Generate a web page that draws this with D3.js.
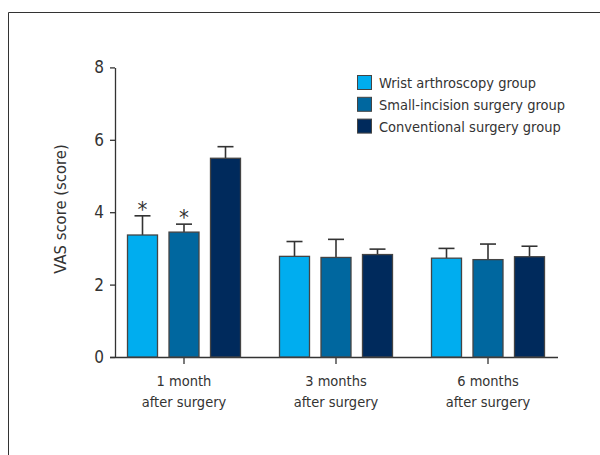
<!DOCTYPE html>
<html>
<head>
<meta charset="utf-8">
<script src="https://cdn.jsdelivr.net/npm/d3@7"></script>
<style>
  body { margin: 0; background: #fff; }
  text { font-family: "Liberation Sans Narrow", "DejaVu Sans Condensed", sans-serif; fill: #333; }
</style>
</head>
<body>
<script>
const groups = ["1 month|after surgery", "3 months|after surgery", "6 months|after surgery"];
const series = ["Wrist arthroscopy group", "Small-incision surgery group", "Conventional surgery group"];
const colors = ["#00adef", "#00679f", "#002a5c"];
// mean values per series, in group order
const wristMean = [3.37, 2.78, 2.73];
const smallMean = [3.45, 2.75, 2.69];
const convMean = [5.49, 2.83, 2.77];
// upper error bar ends
const wristErr = [3.90, 3.19, 3.00];
const smallErr = [3.67, 3.25, 3.12];
const convErr = [5.81, 2.98, 3.06];
const yTicks = [0, 2, 4, 6, 8];
// significance marks: [group, series]
const stars = [[0, 0], [0, 1]];

const means = [wristMean, smallMean, convMean];
const errs = [wristErr, smallErr, convErr];

const width = 600, height = 455;
const svg = d3.select("body").append("svg")
  .attr("width", width).attr("height", height);

// frame
svg.append("path")
  .attr("d", "M8.5,460V12.5H610")
  .attr("fill", "none").attr("stroke", "#333").attr("stroke-width", 1);

const y = d3.scaleLinear().domain([0, 8]).range([357, 67.4]);
const x0 = d3.scaleBand().domain(groups).range([108, 564]);
const x1 = d3.scaleBand().domain(series).range([-56.5, 56.5]).paddingInner(0.277);

// y axis
const yAxis = svg.append("g")
  .attr("transform", "translate(115,0)")
  .call(d3.axisLeft(y).tickValues(yTicks).tickSize(5).tickSizeOuter(0).tickPadding(6));
yAxis.select(".domain").attr("stroke", "#333").attr("stroke-width", 1.3);
yAxis.selectAll(".tick line").attr("stroke", "#333").attr("stroke-width", 1.3);
yAxis.selectAll(".tick text").style("font-size", "17px").attr("fill", "#333");

// x axis
const xAxis = svg.append("g")
  .attr("transform", `translate(0,${y(0)})`)
  .call(d3.axisBottom(x0).tickSize(7).tickSizeOuter(0).tickFormat(""));
xAxis.select(".domain").attr("d", "M110,0.5H558").attr("stroke", "#333").attr("stroke-width", 1.3);
xAxis.selectAll(".tick line").attr("stroke", "#333").attr("stroke-width", 1.3);

groups.forEach(g => {
  const lines = g.split("|");
  const t = svg.append("text")
    .attr("x", x0(g) + x0.bandwidth() / 2)
    .attr("y", 386)
    .attr("text-anchor", "middle")
    .style("font-size", "14.5px");
  lines.forEach((l, i) => t.append("tspan")
    .attr("x", x0(g) + x0.bandwidth() / 2)
    .attr("dy", i === 0 ? 0 : 21)
    .text(l));
});

// y label
svg.append("text")
  .attr("transform", `translate(66,209) rotate(-90)`)
  .attr("text-anchor", "middle")
  .style("font-size", "16.5px")
  .text("VAS score (score)");

// bars
const cells = [];
groups.forEach((g, gi) => series.forEach((s, si) => {
  cells.push({ g, s, gi, si, v: means[si][gi], e: errs[si][gi] });
}));

const cx = d => x0(d.g) + x0.bandwidth() / 2 + x1(d.s) + x1.bandwidth() / 2;

// error bars
const eb = svg.append("g").attr("stroke", "#333").attr("stroke-width", 1.6);
eb.selectAll("line.v").data(cells).enter().append("line")
  .attr("x1", cx).attr("x2", cx)
  .attr("y1", d => y(d.v)).attr("y2", d => y(d.e));
eb.selectAll("line.c").data(cells).enter().append("line")
  .attr("x1", d => cx(d) - 8).attr("x2", d => cx(d) + 8)
  .attr("y1", d => y(d.e)).attr("y2", d => y(d.e));

svg.append("g").selectAll("rect").data(cells).enter().append("rect")
  .attr("x", d => x0(d.g) + x0.bandwidth() / 2 + x1(d.s))
  .attr("width", x1.bandwidth())
  .attr("y", d => y(d.v))
  .attr("height", d => y(0) - y(d.v))
  .attr("fill", d => colors[d.si])
  .attr("stroke", "#444").attr("stroke-width", 1.3);

// asterisks
stars.forEach(([gi, si]) => {
  const d = cells.find(c => c.gi === gi && c.si === si);
  svg.append("text")
    .attr("x", cx(d))
    .attr("y", y(d.e) + 1)
    .attr("text-anchor", "middle")
    .style("font-size", "22px")
    .text("*");
});

// legend
const legend = svg.append("g").attr("transform", "translate(357,75)");
series.forEach((s, i) => {
  const row = legend.append("g").attr("transform", `translate(0,${i * 21.8})`);
  row.append("rect").attr("x", 0.5).attr("y", 0.5).attr("width", 14).attr("height", 14)
    .attr("fill", colors[i]).attr("stroke", "#444").attr("stroke-width", 1);
  row.append("text").attr("x", 22).attr("y", 13)
    .style("font-size", "14.5px").text(s);
});
</script>
</body>
</html>
